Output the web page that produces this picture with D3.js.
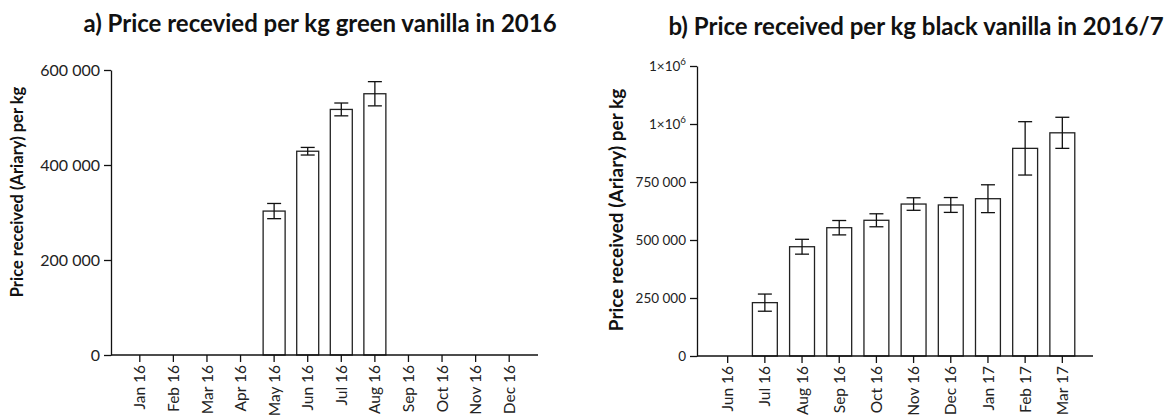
<!DOCTYPE html>
<html>
<head>
<meta charset="utf-8">
<script src="https://cdn.jsdelivr.net/npm/d3@7"></script>
<style>
  body { margin: 0; background: #fff; }
  svg { display: block; font-family: Lato, "Noto Sans", sans-serif; }
  .title { font-weight: 700; font-size: 24px; fill: #111; }
  .ylab { font-weight: 700; fill: #111; }
  .axis path, .axis line { stroke: #111; stroke-width: 1.3; }
  .axis text { fill: #222; font-family: Lato, "Noto Sans", sans-serif; }
  .bar { fill: #fff; stroke: #222; stroke-width: 1.3; }
  .err { stroke: #111; stroke-width: 1.3; fill: none; }
</style>
</head>
<body>
<svg id="chart" width="1170" height="418"></svg>
<script>
// a) green vanilla 2016
var greenMonths = ["Jan 16", "Feb 16", "Mar 16", "Apr 16", "May 16", "Jun 16",
                   "Jul 16", "Aug 16", "Sep 16", "Oct 16", "Nov 16", "Dec 16"];
var greenPrice = [null, null, null, null, 303000, 429000, 517000, 550000, null, null, null, null];
var greenErr   = [null, null, null, null, 16000, 8000, 13500, 25500, null, null, null, null];
var greenTicks = [0, 200000, 400000, 600000];
var greenTickLabels = ["0", "200 000", "400 000", "600 000"];

// b) black vanilla 2016/7
var blackMonths = ["Jun 16", "Jul 16", "Aug 16", "Sep 16", "Oct 16", "Nov 16",
                   "Dec 16", "Jan 17", "Feb 17", "Mar 17"];
var blackPrice = [null, 230000, 471000, 553000, 585000, 655000, 651000, 678000, 895000, 962000];
var blackErr   = [null, 37000, 32000, 31000, 28000, 27000, 32000, 60000, 115000, 67000];
var blackTicks = [0, 250000, 500000, 750000, 1000000, 1250000];
var blackTickLabels = ["0", "250 000", "500 000", "750 000", "1×10^6", "1×10^6"];

var svg = d3.select("#chart");

function panel(opts) {
    var g = svg.append("g");

    var x = d3.scaleBand()
        .domain(opts.months)
        .range([opts.left, opts.right])
        .paddingInner(opts.padIn)
        .paddingOuter(opts.padOut);

    var y = d3.scaleLinear()
        .domain([0, opts.max])
        .range([opts.bottom, opts.top]);

    var rows = opts.months.map(function(m, i) {
        return { month: m, value: opts.values[i], err: opts.errs[i] };
    }).filter(function(d) { return d.value != null; });

    g.selectAll("rect.bar")
        .data(rows)
        .enter().append("rect")
        .attr("class", "bar")
        .attr("x", function(d) { return x(d.month); })
        .attr("width", x.bandwidth())
        .attr("y", function(d) { return y(d.value); })
        .attr("height", function(d) { return y(0) - y(d.value); });

    var cap = opts.cap;
    var eb = g.selectAll("g.eb")
        .data(rows)
        .enter().append("g")
        .attr("class", "err")
        .attr("transform", function(d) { return "translate(" + (x(d.month) + x.bandwidth() / 2) + ",0)"; });
    eb.append("line")
        .attr("y1", function(d) { return y(d.value + d.err); })
        .attr("y2", function(d) { return y(d.value - d.err); });
    eb.append("line")
        .attr("x1", -cap).attr("x2", cap)
        .attr("y1", function(d) { return y(d.value + d.err); })
        .attr("y2", function(d) { return y(d.value + d.err); });
    eb.append("line")
        .attr("x1", -cap).attr("x2", cap)
        .attr("y1", function(d) { return y(d.value - d.err); })
        .attr("y2", function(d) { return y(d.value - d.err); });

    // y axis
    var yAxis = g.append("g")
        .attr("class", "axis")
        .attr("transform", "translate(" + opts.left + ",0)")
        .call(d3.axisLeft(y)
            .tickValues(opts.ticks)
            .tickSize(7)
            .tickSizeOuter(0)
            .tickPadding(4)
            .tickFormat(function() { return ""; }));
    yAxis.selectAll(".tick text")
        .style("font-size", opts.yFont + "px")
        .each(function(d, i) {
            var parts = opts.tickLabels[i].split("^");
            var t = d3.select(this);
            t.append("tspan").text(parts[0]);
            if (parts.length > 1) {
                t.append("tspan")
                    .attr("dy", "-0.55em")
                    .style("font-size", (opts.yFont * 0.72) + "px")
                    .text(parts[1]);
            }
        });

    // x axis
    var xAxis = g.append("g")
        .attr("class", "axis")
        .attr("transform", "translate(0," + opts.bottom + ")")
        .call(d3.axisBottom(x).tickSize(7).tickSizeOuter(0));
    xAxis.select(".domain").attr("d", "M" + opts.left + ",0H" + opts.right);
    xAxis.selectAll(".tick text")
        .style("font-size", opts.xFont + "px")
        .attr("transform", "rotate(-90)")
        .attr("text-anchor", "end")
        .attr("x", -10)
        .attr("y", 0)
        .attr("dy", "0.36em");

    // titles
    svg.append("text")
        .attr("class", "title")
        .attr("x", opts.titleX)
        .attr("y", opts.titleY)
        .attr("text-anchor", "middle")
        .text(opts.title);

    svg.append("text")
        .attr("class", "ylab")
        .attr("transform", "translate(" + opts.ylabX + "," + opts.ylabY + ") rotate(-90)")
        .attr("text-anchor", "middle")
        .style("font-size", opts.ylabFont + "px")
        .text("Price received (Ariary) per kg");
}

panel({
    months: greenMonths, values: greenPrice, errs: greenErr,
    ticks: greenTicks, tickLabels: greenTickLabels, max: 600000,
    left: 111, right: 538, top: 70, bottom: 355,
    padIn: 0.345, padOut: 0.53, cap: 7,
    yFont: 16, xFont: 15.5,
    title: "a) Price recevied per kg green vanilla in 2016", titleX: 320, titleY: 32,
    ylabX: 23, ylabY: 192, ylabFont: 16.5
});

panel({
    months: blackMonths, values: blackPrice, errs: blackErr,
    ticks: blackTicks, tickLabels: blackTickLabels, max: 1250000,
    left: 697, right: 1093, top: 66, bottom: 356,
    padIn: 0.33, padOut: 0.49, cap: 7,
    yFont: 13.5, xFont: 15.5,
    title: "b) Price received per kg black vanilla in 2016/7", titleX: 916, titleY: 35,
    ylabX: 623, ylabY: 210, ylabFont: 19
});
</script>
</body>
</html>
